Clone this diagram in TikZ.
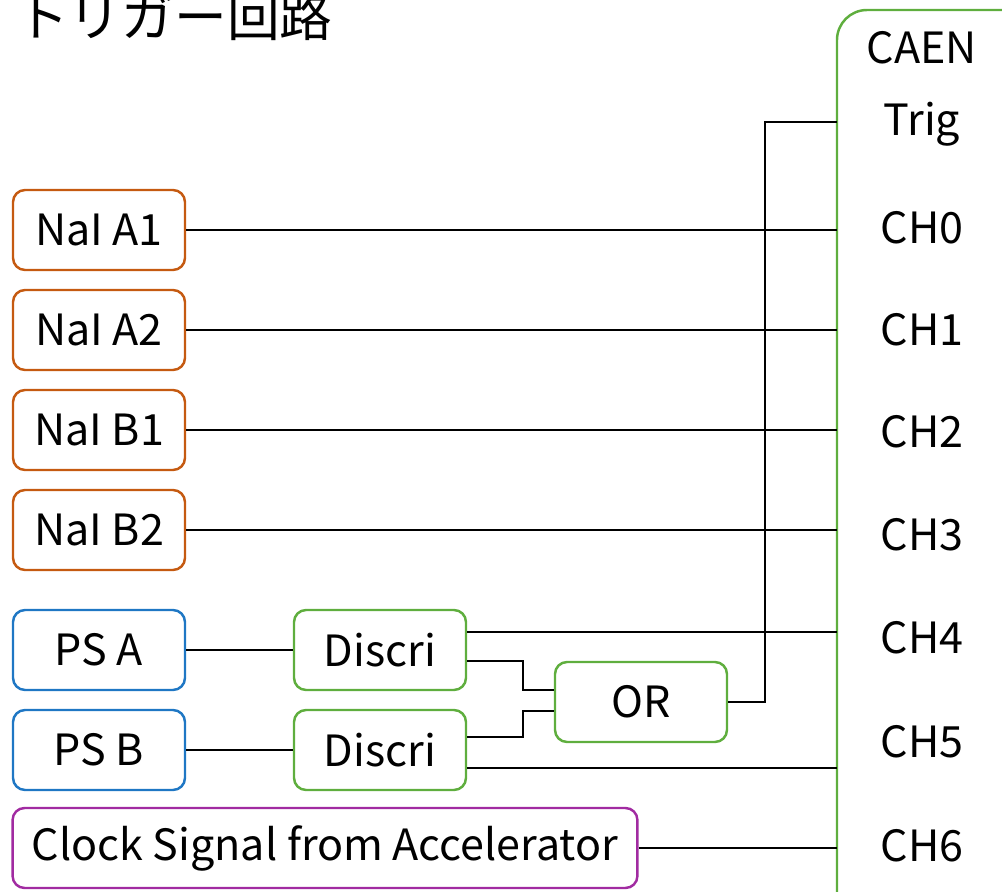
\documentclass[tikz,border=0pt]{standalone}
\usepackage{fontspec}
\setmainfont{Noto Sans CJK JP}
\usepackage{xcolor}
\usepackage{tikz}
\usetikzlibrary{positioning, calc}
\definecolor{naicol}{HTML}{C55A11}
\definecolor{pscol}{HTML}{1F77C4}
\definecolor{logiccol}{HTML}{5FAE3E}
\definecolor{clockcol}{HTML}{A12BA1}

\begin{document}
\begin{tikzpicture}[
    x=0.02cm, y=-0.02cm,
    box/.style={draw=#1, line width=1.4pt, rounded corners=0.24cm, minimum width=3.44cm, minimum height=1.6cm, inner sep=0pt, font=\fontsize{24.5}{30}\selectfont},
    chlabel/.style={font=\fontsize{24.5}{30}\selectfont},
    wire/.style={line width=1.1pt, color=black}
]
\clip (0,0) rectangle (1002,892);

% Title
\node[anchor=west, font=\fontsize{30}{36}\selectfont] (title) at (10,16) {トリガー回路};

% Detectors
\node[box=naicol] (a1) at (99,230) {NaI A1};
\node[box=naicol] (a2) at (99,330) {NaI A2};
\node[box=naicol] (b1) at (99,430) {NaI B1};
\node[box=naicol] (b2) at (99,530) {NaI B2};
\node[box=pscol] (psa) at (99,650) {PS A};
\node[box=pscol] (psb) at (99,750) {PS B};
\node[box=clockcol, minimum width=12.5cm] (clock) at (325,848) {Clock Signal from Accelerator};

% Logic modules
\node[box=logiccol] (d1) at (380,650) {Discri};
\node[box=logiccol] (d2) at (380,750) {Discri};
\node[box=logiccol] (or) at (641,702) {OR};

% Digitizer
\draw[draw=logiccol, line width=1.4pt, rounded corners=0.6cm] (837,10) rectangle (1060,940);
\coordinate (caen) at (837,450);
\node[chlabel] (lcaen) at (922,48) {CAEN};
\node[chlabel] (trig) at (922,124) {Trig};
\node[chlabel] (ch0) at (922,228) {CH0};
\node[chlabel] (ch1) at (922,330) {CH1};
\node[chlabel] (ch2) at (922,432) {CH2};
\node[chlabel] (ch3) at (922,535) {CH3};
\node[chlabel] (ch4) at (922,638) {CH4};
\node[chlabel] (ch5) at (922,742) {CH5};
\node[chlabel] (ch6) at (922,846) {CH6};

% Signal lines
\draw[wire] (a1) -- (a1 -| caen);
\draw[wire] (a2) -- (a2 -| caen);
\draw[wire] (b1) -- (b1 -| caen);
\draw[wire] (b2) -- (b2 -| caen);
\draw[wire] (psa) -- (d1);
\draw[wire] (psb) -- (d2);
\draw[wire] (clock) -- (clock -| caen);

\coordinate (d1out) at ([yshift=0.36cm]d1.east);
\coordinate (d2out) at ([yshift=-0.36cm]d2.east);
\draw[wire] (d1out) -- (d1out -| caen);
\draw[wire] (d2out) -- (d2out -| caen);

\draw[wire] ([yshift=-0.22cm]d1.east) -- ++(56,0) |- ([yshift=0.24cm]or.west);
\draw[wire] ([yshift=0.26cm]d2.east) -- ++(56,0) |- ([yshift=-0.18cm]or.west);

% Trigger
\coordinate (tbend) at (765,0);
\draw[wire] (or.east) -| (tbend |- 0,122) -- (caen |- 0,122);

\end{tikzpicture}
\end{document}
